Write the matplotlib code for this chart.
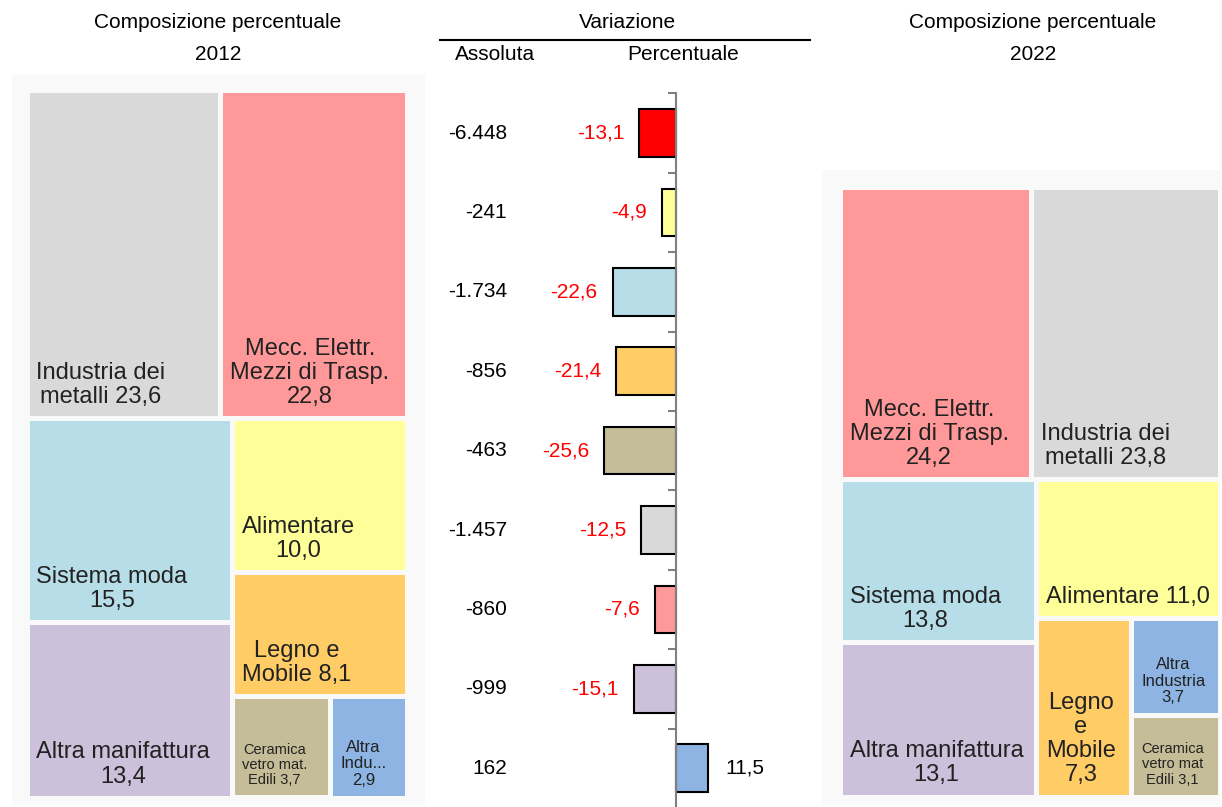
import numpy as np
import matplotlib
matplotlib.use("Agg")
import matplotlib.pyplot as plt
from matplotlib.patches import Rectangle

plt.rcParams['font.family'] = ['Liberation Sans', 'DejaVu Sans']

# --- data -------------------------------------------------------------
bar_sectors = ["Totale", "Alimentare", "Sistema moda", "Legno e Mobile",
               "Ceramica", "Industria metalli", "Mecc. Elettr.",
               "Altra manifattura", "Altra Industria"]
var_abs = [-6448, -241, -1734, -856, -463, -1457, -860, -999, 162]
var_pct = [-13.1, -4.9, -22.6, -21.4, -25.6, -12.5, -7.6, -15.1, 11.5]

tree_sectors = ["Alimentare", "Sistema moda", "Legno e Mobile", "Ceramica",
                "Industria metalli", "Mecc. Elettr.", "Altra manifattura",
                "Altra Industria"]
share_2012 = [10.0, 15.5, 8.1, 3.7, 23.6, 22.8, 13.4, 2.9]
share_2022 = [11.0, 13.8, 7.3, 3.1, 23.8, 24.2, 13.1, 3.7]

labels_2012 = ["Alimentare\n{}", "Sistema moda\n{}", "Legno e\nMobile {}",
               "Ceramica\nvetro mat.\nEdili {}", "Industria dei\nmetalli {}",
               "Mecc. Elettr.\nMezzi di Trasp.\n{}", "Altra manifattura\n{}",
               "Altra\nIndu...\n{}"]
labels_2022 = ["Alimentare {}", "Sistema moda\n{}", "Legno\ne\nMobile\n{}",
               "Ceramica\nvetro mat\nEdili {}", "Industria dei\nmetalli {}",
               "Mecc. Elettr.\nMezzi di Trasp.\n{}", "Altra manifattura\n{}",
               "Altra\nIndustria\n{}"]

colors = {
    "Totale": "#ff0000",
    "Alimentare": "#ffff99",
    "Sistema moda": "#b7dee8",
    "Legno e Mobile": "#ffcc66",
    "Ceramica": "#c4bd97",
    "Industria metalli": "#d9d9d9",
    "Mecc. Elettr.": "#ff9999",
    "Altra manifattura": "#ccc0da",
    "Altra Industria": "#8db4e2",
}
label_size = {"Ceramica": 10.5, "Altra Industria": 12}

W, H = 1222, 807


def fmt_pct(v):
    return f"{v:.1f}".replace(".", ",")


def fmt_abs(v):
    return f"{v:,}".replace(",", ".")


def px_axes(fig, x0, y0, x1, y1):
    return fig.add_axes([x0 / W, 1 - y1 / H, (x1 - x0) / W, (y1 - y0) / H])


def worst(row, side):
    s = sum(row)
    return max(max(side ** 2 * r / s ** 2, s ** 2 / (side ** 2 * r)) for r in row)


def squarify(areas, x, y, w, h):
    rects = []
    vals = list(areas)
    while vals:
        side = min(w, h)
        row = [vals[0]]
        i = 1
        while i < len(vals) and worst(row + [vals[i]], side) <= worst(row, side):
            row.append(vals[i])
            i += 1
        vals = vals[i:]
        s = sum(row)
        if w >= h:
            cw = s / h
            yy = y
            for v in row:
                rects.append((x, yy, cw, v / cw))
                yy += v / cw
            x += cw
            w -= cw
        else:
            rh = s / w
            xx = x
            for v in row:
                rects.append((xx, y, v / rh, rh))
                xx += v / rh
            y += rh
            h -= rh
    return rects


def treemap(fig, box, tiles, shares, labels):
    bx0, by0, bx1, by1 = box
    tx0, ty0, tx1, ty1 = tiles
    ax = px_axes(fig, bx0, by0, bx1, by1)
    ax.set_xlim(bx0, bx1)
    ax.set_ylim(by1, by0)
    ax.axis('off')
    ax.add_patch(Rectangle((bx0 + 2, by0 + 2), bx1 - bx0 - 4, by1 - by0 - 4,
                           facecolor='#f9f9f9', edgecolor='none'))
    order = np.argsort(shares)[::-1]
    total = sum(shares)
    area = (tx1 - tx0) * (ty1 - ty0)
    areas = [shares[i] / total * area for i in order]
    rects = squarify(areas, tx0, ty0, tx1 - tx0, ty1 - ty0)
    gap = 2.5
    for idx, (x, y, w, h) in zip(order, rects):
        name = tree_sectors[idx]
        ax.add_patch(Rectangle((x + gap, y + gap), w - 2 * gap, h - 2 * gap,
                               facecolor=colors[name], edgecolor='none'))
        txt = labels[idx].format(fmt_pct(shares[idx]))
        fs = label_size.get(name, 17)
        ax.text(x + gap + 7, y + h - gap - 8, txt, ha='left', va='bottom',
                multialignment='center', fontsize=fs, color='#222222',
                linespacing=1.12)


fig = plt.figure(figsize=(W / 100, H / 100), dpi=100)

treemap(fig, (10, 73, 427, 807), (27, 90, 408, 798), share_2012, labels_2012)
treemap(fig, (820, 168, 1222, 807), (840, 187, 1220, 797), share_2022, labels_2022)

# --- middle bar chart -------------------------------------------------
ppu = 2.8
zero_px = 676
bx0, bx1 = 560, 810
ax = px_axes(fig, bx0, 93.3, bx1, 808)
ax.set_xlim(-(zero_px - bx0) / ppu, (bx1 - zero_px) / ppu)
ax.set_ylim(len(var_pct) - 0.5, -0.5)
y = np.arange(len(var_pct))
ax.barh(y, var_pct, height=0.6, color=[colors[s] for s in bar_sectors],
        edgecolor='black', linewidth=1.5, zorder=2)
for sp in ['top', 'right', 'bottom']:
    ax.spines[sp].set_visible(False)
ax.spines['left'].set_position(('data', 0))
ax.spines['left'].set_color('#808080')
ax.spines['left'].set_linewidth(1.5)
ax.spines['left'].set_zorder(3)
ax.set_xticks([])
ax.set_yticks(np.arange(-0.5, len(var_pct), 1))
ax.set_yticklabels([])
ax.tick_params(axis='y', direction='out', length=6, width=1.5, color='#808080')
ax.patch.set_alpha(0)

for yi, (a, p) in enumerate(zip(var_abs, var_pct)):
    ax.text(-(zero_px - 507) / ppu, yi, fmt_abs(a), ha='right', va='center',
            fontsize=15, color='black')
    if p < 0:
        ax.text(p - 15 / ppu, yi, fmt_pct(p), ha='right', va='center',
                fontsize=15, color='red')
    else:
        ax.text(p + 17 / ppu, yi, fmt_pct(p), ha='left', va='center',
                fontsize=15, color='black')

# --- headers ----------------------------------------------------------
def head(x, y, s):
    fig.text(x / W, 1 - y / H, s, ha='center', va='center', fontsize=15)

head(218, 22, "Composizione percentuale")
head(218, 55, "2012")
head(1033, 22, "Composizione percentuale")
head(1033, 55, "2022")
head(627, 22, "Variazione")
head(495, 55, "Assoluta")
head(683, 55, "Percentuale")
fig.add_artist(plt.Line2D([440 / W, 810 / W], [1 - 40 / H, 1 - 40 / H],
                          color='black', lw=1.5))

fig.savefig("out.png", dpi=100)
